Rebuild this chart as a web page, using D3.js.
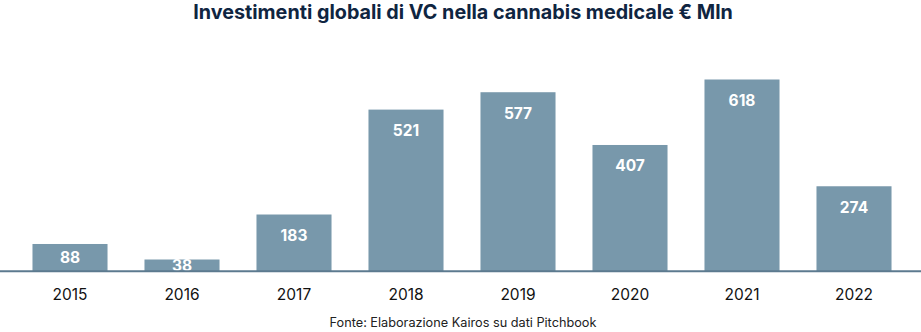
<!DOCTYPE html>
<html><head><meta charset="utf-8">
<script src="https://cdn.jsdelivr.net/npm/d3@7"></script>
<style>body{margin:0;background:#fff}svg{display:block}</style>
</head><body>
<svg id="c" width="921" height="332"></svg>
<script>
const years = ["2015","2016","2017","2018","2019","2020","2021","2022"];
const values = [88, 38, 183, 521, 577, 407, 618, 274];
const titleText = "Investimenti globali di VC nella cannabis medicale € Mln";
const sourceText = "Fonte: Elaborazione Kairos su dati Pitchbook";

const svg = d3.select("#c");
const W = 921, H = 332;
const FONT = "Inter, 'Open Sans', sans-serif";
const x = d3.scaleBand().domain(years).range([14, 910]).paddingInner(0.33).paddingOuter(0.165);
const y = d3.scaleLinear().domain([0, 618]).range([271.3, 79.5]);

function fit(sel, target) {
  const w = sel.node().getComputedTextLength();
  const fs = parseFloat(sel.attr("font-size"));
  sel.attr("font-size", (fs * target / w).toFixed(2));
}

const title = svg.append("text").attr("x", 463).attr("y", 19)
  .attr("text-anchor", "middle").attr("font-family", FONT).attr("font-weight", 700)
  .attr("font-size", 17).attr("fill", "#0f2541").text(titleText);
fit(title, 540);

svg.append("g").selectAll("rect").data(values).join("rect")
  .attr("x", (d, i) => x(years[i])).attr("width", x.bandwidth())
  .attr("y", d => y(d)).attr("height", d => y(0) - y(d))
  .attr("fill", "#7898ab");

svg.append("g").selectAll("text").data(values).join("text")
  .attr("x", (d, i) => x(years[i]) + x.bandwidth() / 2)
  .attr("y", d => Math.min(y(d) + 21, (y(d) + y(0)) / 2) + 5.5)
  .attr("text-anchor", "middle").attr("font-family", FONT).attr("font-weight", 700)
  .attr("font-size", 15.5).attr("fill", "#fff").text(d => d);

svg.append("line").attr("x1", 0).attr("x2", W).attr("y1", y(0)).attr("y2", y(0))
  .attr("stroke", "#5c7a8f").attr("stroke-width", 2);

const xAxis = svg.append("g").attr("transform", `translate(0,${y(0)})`)
  .call(d3.axisBottom(x).tickSize(0).tickPadding(0));
xAxis.select(".domain").remove();
xAxis.selectAll("text").attr("dy", null).attr("y", 29).attr("font-family", FONT)
  .attr("font-size", 15.5).attr("fill", "#111");

const src = svg.append("text").attr("x", 463).attr("y", 327).attr("text-anchor", "middle")
  .attr("font-family", FONT).attr("font-size", 11.5).attr("fill", "#222").text(sourceText);
fit(src, 267);
</script>
</body></html>
